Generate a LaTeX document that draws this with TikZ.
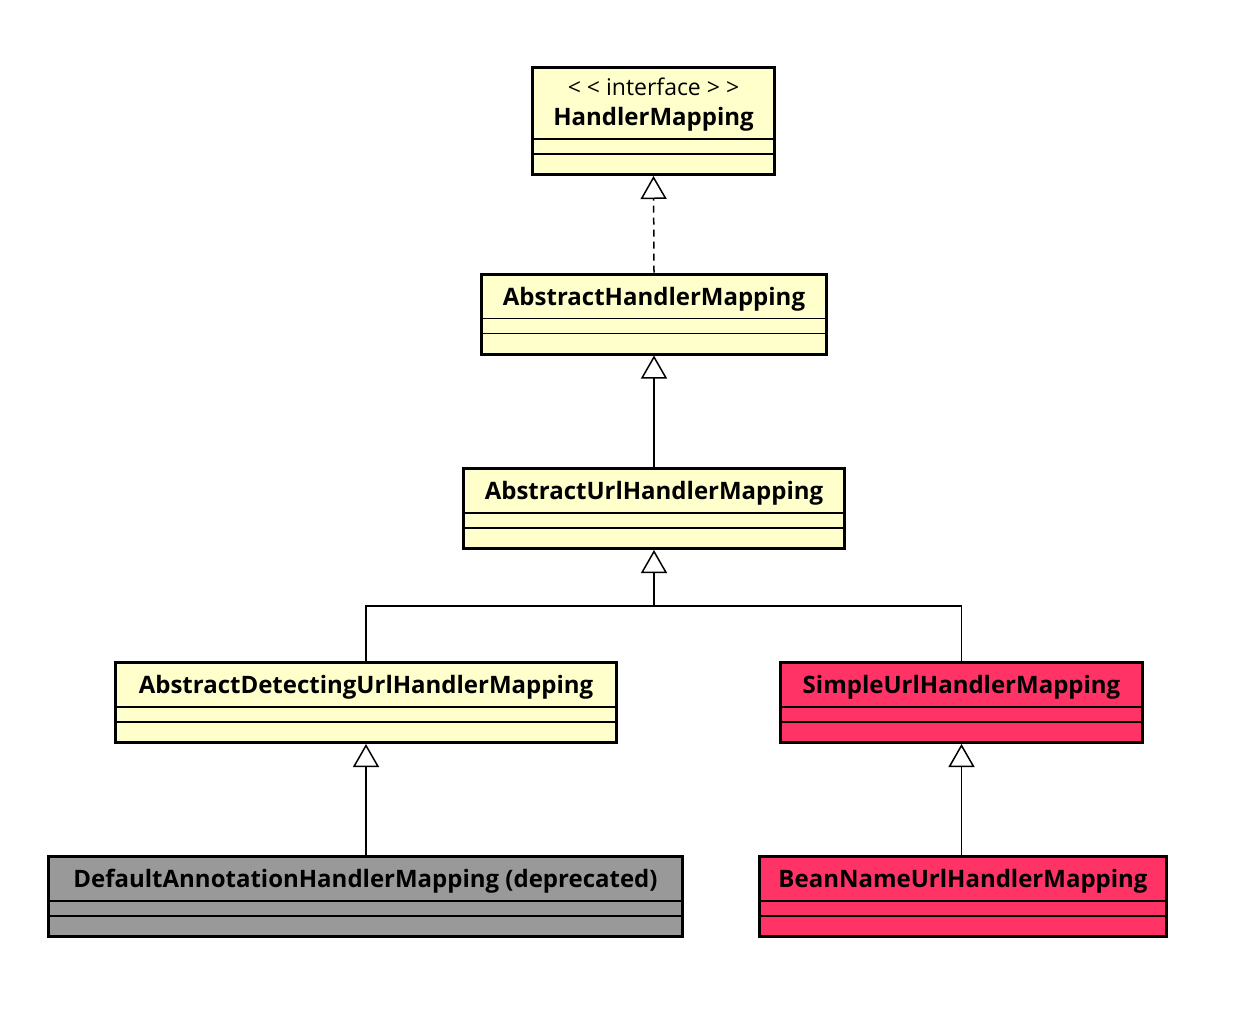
\documentclass[tikz,border=0pt]{standalone}
\usepackage{fontspec}
\setmainfont{Open Sans}
\usetikzlibrary{arrows.meta,calc}
\definecolor{noteyellow}{HTML}{FFFFCC}
\definecolor{springred}{HTML}{FF3366}
\definecolor{oldgray}{HTML}{999999}
\newcommand{\compartments}[2]{%
  \draw[sep] ($(#1.north west)+(0,#2)$) -- ($(#1.north east)+(0,#2)$);
  \draw[sep] ($(#1.north west)+(0,#2+15)$) -- ($(#1.north east)+(0,#2+15)$);}
\begin{document}
\begin{tikzpicture}[x=1pt,y=-1pt,
  class/.style={draw,line width=3pt,rectangle,minimum height=80pt},
  sep/.style={line width=1.5pt},
  title/.style={anchor=base,font=\fontsize{24}{28}\selectfont\bfseries},
  stereo/.style={anchor=base,font=\fontsize{23}{28}\selectfont},
  inherit/.style={line width=1.5pt,-{Triangle[open,length=23pt,width=26pt]}},
  realize/.style={inherit,dash pattern=on 7pt off 5pt}]
  \useasboundingbox (0,0) rectangle (1246,1010);
  \node[class,fill=noteyellow,minimum width=242pt,minimum height=107pt] (hm) at (653.5,121) {};
  \node[class,fill=noteyellow,minimum width=345pt] (ahm) at (654,314) {};
  \node[class,fill=noteyellow,minimum width=381pt] (auhm) at (654,508.5) {};
  \node[class,fill=noteyellow,minimum width=501pt] (aduhm) at (366,702.5) {};
  \node[class,fill=springred,minimum width=362pt] (suhm) at (961.5,702.5) {};
  \node[class,fill=oldgray,minimum width=634pt] (dahm) at (365.5,896.5) {};
  \node[class,fill=springred,minimum width=407pt] (bnuhm) at (963,896.5) {};
  \compartments{hm}{73}
  \compartments{ahm}{46}
  \compartments{auhm}{46}
  \compartments{aduhm}{46}
  \compartments{suhm}{46}
  \compartments{dahm}{46}
  \compartments{bnuhm}{46}
  \node[stereo] (hmstereo) at ($(hm.north)+(0,29.7)$) {<\kern6pt<\kern6pt interface\kern6pt>\kern6pt>};
  \node[title] (hmtitle) at ($(hm.north)+(0,59)$) {HandlerMapping};
  \node[title] (ahmtitle) at ($(ahm.north)+(0,32.7)$) {AbstractHandlerMapping};
  \node[title] (auhmtitle) at ($(auhm.north)+(0,32.7)$) {AbstractUrlHandlerMapping};
  \node[title] (aduhmtitle) at ($(aduhm.north)+(0,32.7)$) {AbstractDetectingUrlHandlerMapping};
  \node[title] (suhmtitle) at ($(suhm.north)+(0,32.7)$) {SimpleUrlHandlerMapping};
  \node[title] (dahmtitle) at ($(dahm.north)+(0,32.7)$) {DefaultAnnotationHandlerMapping (deprecated)};
  \node[title] (bnuhmtitle) at ($(bnuhm.north)+(0,32.7)$) {BeanNameUrlHandlerMapping};
  \coordinate (fork) at (654,606);
  \draw[realize] (ahm.north) -- (hm.south);
  \draw[inherit] (auhm.north) -- (ahm.south);
  \draw[inherit] (fork) -- (auhm.south);
  \draw[sep] (aduhm.north) |- (fork) -| (suhm.north);
  \draw[inherit] (aduhm.south |- dahm.north) -- (aduhm.south);
  \draw[inherit] (suhm.south |- bnuhm.north) -- (suhm.south);
\end{tikzpicture}
\end{document}
